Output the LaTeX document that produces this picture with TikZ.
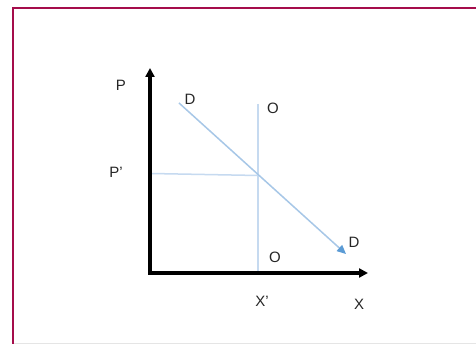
\documentclass[tikz,border=0pt]{standalone}
\usepackage{fontspec}
\setmainfont{Liberation Sans}
\usetikzlibrary{arrows.meta}
\definecolor{frame}{HTML}{A50D4B}
\definecolor{dline}{HTML}{A7C7E7}
\definecolor{dtip}{HTML}{5B9BD5}
\definecolor{oline}{HTML}{C6DAF0}
\begin{document}
\begin{tikzpicture}[x=1pt,y=-1pt,
  lbl/.style={font=\fontsize{15}{18}\selectfont,text=black!85,inner sep=0pt},
  axis/.style={line width=3.2pt,-{Triangle[length=9pt,width=9pt]}},
  thin/.style={oline,line width=1.5pt}]
\useasboundingbox (0,0) rectangle (476,344);
\fill[white] (0,0) rectangle (476,344);
\draw[black!10,line width=1pt] (14,343.5) -- (476,343.5);
\draw[frame,line width=2.8pt] (13,344) -- (13,8) -- (476,8);
% points
\coordinate (O0) at (150,273);
\coordinate (Ytop) at (150,68);
\coordinate (Xend) at (368,273);
\coordinate (Dstart) at (179,103);
\coordinate (Dend) at (346,254);
\coordinate (Otop) at (258,104);
\coordinate (Obot) at (258,273);
\coordinate (Pleft) at (151,173.5);
\coordinate (E) at (258,175.5);
% lines
\draw[thin] (Otop) -- (Obot);
\draw[thin] (Pleft) -- (E);
\draw[dline,line width=1.5pt,-{Triangle[length=9pt,width=8pt,color=dtip]}] (Dstart) -- (Dend);
\draw[axis] (O0) -- (Ytop);
\draw[axis] ([xshift=-1.6pt]O0) -- (Xend);
% labels
\node[lbl] (lP) at (121,85) {P};
\node[lbl] (lD1) at (190,99) {D};
\node[lbl] (lO1) at (273,108) {O};
\node[lbl] (lPp) at (116,172) {P’};
\node[lbl] (lD2) at (354,242) {D};
\node[lbl] (lO2) at (275,257) {O};
\node[lbl] (lXp) at (262,301) {X’};
\node[lbl] (lX) at (359,304) {X};
\end{tikzpicture}
\end{document}
